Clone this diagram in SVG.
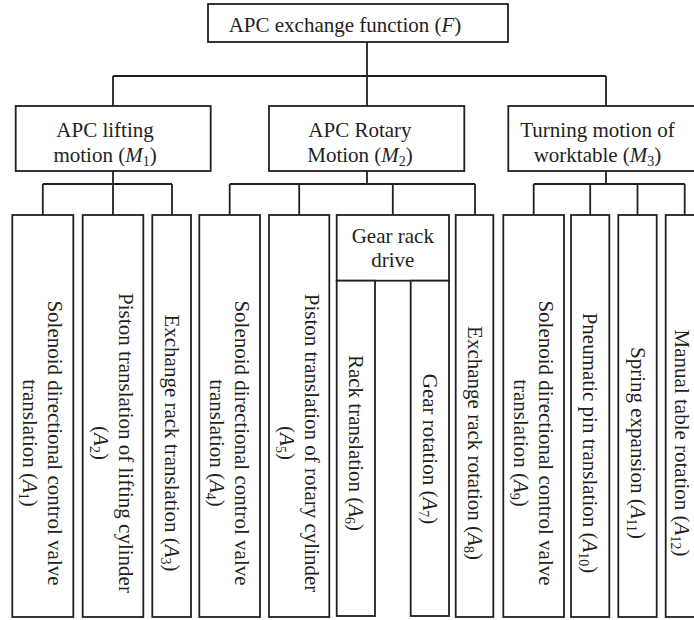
<svg xmlns="http://www.w3.org/2000/svg" width="694" height="620" viewBox="0 0 694 620">
  <style>
    .box { fill: #ffffff; stroke: #231f20; stroke-width: 1.8; }
    .wire { fill: none; stroke: #231f20; stroke-width: 1.8; }
    text { font-family: "Liberation Serif", "Times New Roman", serif; font-size: 21px; fill: #231f20; }
    .mid { text-anchor: middle; }
    .it { font-style: italic; }
    .sub { font-size: 14px; }
  </style>
  <rect width="694" height="620" fill="#ffffff"/>

  <!-- tree connectors -->
  <g id="connectors">
    <path class="wire" d="M367 42 V76 M113 76 H606 M113 76 V106 M367 76 V106 M606 76 V106"/>
    <path class="wire" d="M113 171 V184 M42.8 184 H172 M42.8 184 V215 M113 184 V215 M172 184 V215"/>
    <path class="wire" d="M367 171 V184 M229.7 184 H475 M229.7 184 V215 M299.2 184 V215 M392.8 184 V215 M475 184 V215"/>
    <path class="wire" d="M606 171 V184 M533.7 184 H684.7 M533.7 184 V215 M590.2 184 V215 M637.5 184 V215 M684.7 184 V215"/>
  </g>

  <!-- root -->
  <g id="F">
    <rect class="box" x="208" y="4" width="300" height="38"/>
    <text class="mid" x="345" y="32">APC exchange function (<tspan class="it">F</tspan>)</text>
  </g>

  <!-- level 2 -->
  <g id="M1">
    <rect class="box" x="15.7" y="106" width="195" height="65"/>
    <text class="mid" x="105" y="136.7">APC lifting</text>
    <text class="mid" x="105" y="161.7">motion (<tspan class="it">M</tspan><tspan class="sub" dy="4">1</tspan><tspan dy="-4">)</tspan></text>
  </g>
  <g id="M2">
    <rect class="box" x="269" y="106" width="195.3" height="65"/>
    <text class="mid" x="360" y="136.7">APC Rotary</text>
    <text class="mid" x="360" y="161.7">Motion (<tspan class="it">M</tspan><tspan class="sub" dy="4">2</tspan><tspan dy="-4">)</tspan></text>
  </g>
  <g id="M3">
    <rect class="box" x="508.3" y="106" width="197" height="65"/>
    <text class="mid" x="597.5" y="136.7">Turning motion of</text>
    <text class="mid" x="597.5" y="161.7">worktable (<tspan class="it">M</tspan><tspan class="sub" dy="4">3</tspan><tspan dy="-4">)</tspan></text>
  </g>

  <!-- leaf actions, labels run top to bottom -->
  <g id="A1">
    <rect class="box" x="12.3" y="215" width="61" height="402"/>
    <text class="mid" transform="translate(42.8,443) rotate(90)"><tspan x="0" y="-5.5">Solenoid directional control valve</tspan><tspan x="0" y="19.5">translation (<tspan class="it">A</tspan><tspan class="sub" dy="4">1</tspan><tspan dy="-4">)</tspan></tspan></text>
  </g>
  <g id="A2">
    <rect class="box" x="82.7" y="215" width="60.6" height="402"/>
    <text class="mid" transform="translate(113,443) rotate(90)"><tspan x="0" y="-5.5">Piston translation of lifting cylinder</tspan><tspan x="0" y="19.5">(<tspan class="it">A</tspan><tspan class="sub" dy="4">2</tspan><tspan dy="-4">)</tspan></tspan></text>
  </g>
  <g id="A3">
    <rect class="box" x="152.3" y="215" width="38.7" height="402"/>
    <text class="mid" transform="translate(171.7,443) rotate(90)" y="7">Exchange rack translation (<tspan class="it">A</tspan><tspan class="sub" dy="4">3</tspan><tspan dy="-4">)</tspan></text>
  </g>
  <g id="A4">
    <rect class="box" x="199.3" y="215" width="60.7" height="402"/>
    <text class="mid" transform="translate(229.7,443) rotate(90)"><tspan x="0" y="-5.5">Solenoid directional control valve</tspan><tspan x="0" y="19.5">translation (<tspan class="it">A</tspan><tspan class="sub" dy="4">4</tspan><tspan dy="-4">)</tspan></tspan></text>
  </g>
  <g id="A5">
    <rect class="box" x="269" y="215" width="60.3" height="402"/>
    <text class="mid" transform="translate(299.2,443) rotate(90)"><tspan x="0" y="-5.5">Piston translation of rotary cylinder</tspan><tspan x="0" y="19.5">(<tspan class="it">A</tspan><tspan class="sub" dy="4">5</tspan><tspan dy="-4">)</tspan></tspan></text>
  </g>
  <g id="gear-rack-drive">
    <rect class="box" x="336.7" y="215" width="112.3" height="65.7"/>
    <text class="mid" x="392.8" y="243.3">Gear rack</text>
    <text class="mid" x="392.8" y="266.7">drive</text>
  </g>
  <g id="A6">
    <rect class="box" x="336.7" y="280.7" width="38.3" height="335.3"/>
    <text class="mid" transform="translate(355.8,443) rotate(90)" y="7">Rack translation (<tspan class="it">A</tspan><tspan class="sub" dy="4">6</tspan><tspan dy="-4">)</tspan></text>
  </g>
  <g id="A7">
    <rect class="box" x="410.7" y="280.7" width="38.3" height="335.3"/>
    <text class="mid" transform="translate(429.8,449) rotate(90)" y="7">Gear rotation (<tspan class="it">A</tspan><tspan class="sub" dy="4">7</tspan><tspan dy="-4">)</tspan></text>
  </g>
  <g id="A8">
    <rect class="box" x="455.7" y="215" width="37.6" height="402"/>
    <text class="mid" transform="translate(474.5,443) rotate(90)" y="7">Exchange rack rotation (<tspan class="it">A</tspan><tspan class="sub" dy="4">8</tspan><tspan dy="-4">)</tspan></text>
  </g>
  <g id="A9">
    <rect class="box" x="503.3" y="215" width="60.7" height="402"/>
    <text class="mid" transform="translate(533.7,443) rotate(90)"><tspan x="0" y="-5.5">Solenoid directional control valve</tspan><tspan x="0" y="19.5">translation (<tspan class="it">A</tspan><tspan class="sub" dy="4">9</tspan><tspan dy="-4">)</tspan></tspan></text>
  </g>
  <g id="A10">
    <rect class="box" x="571" y="215" width="38.3" height="402"/>
    <text class="mid" transform="translate(590.2,443) rotate(90)" y="7">Pneumatic pin translation (<tspan class="it">A</tspan><tspan class="sub" dy="4">10</tspan><tspan dy="-4">)</tspan></text>
  </g>
  <g id="A11">
    <rect class="box" x="618.3" y="215" width="38.4" height="402"/>
    <text class="mid" transform="translate(637.5,443) rotate(90)" y="7">Spring expansion (<tspan class="it">A</tspan><tspan class="sub" dy="4">11</tspan><tspan dy="-4">)</tspan></text>
  </g>
  <g id="A12">
    <rect class="box" x="665.7" y="215" width="38.4" height="402"/>
    <text class="mid" transform="translate(684.7,443) rotate(90)" y="10">Manual table rotation (<tspan class="it">A</tspan><tspan class="sub" dy="4">12</tspan><tspan dy="-4">)</tspan></text>
  </g>
</svg>
